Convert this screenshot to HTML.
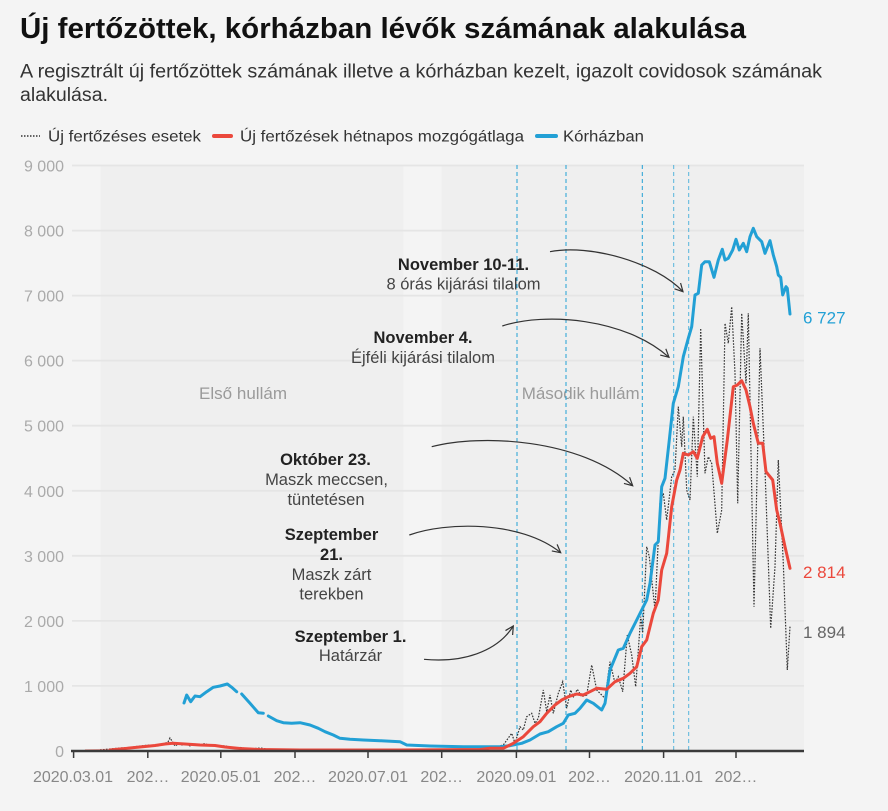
<!DOCTYPE html>
<html><head><meta charset="utf-8"><style>
html,body{margin:0;padding:0;background:#f4f4f4;}
svg{display:block;font-family:"Liberation Sans",Arial,sans-serif;}
</style></head><body>
<svg width="888" height="811" viewBox="0 0 888 811" xmlns="http://www.w3.org/2000/svg">
<defs>
<marker id="ah" markerWidth="12" markerHeight="12" refX="9" refY="5" orient="auto" markerUnits="userSpaceOnUse">
<path d="M1,0.8 L9,5 L1,9.2" fill="none" stroke="#333" stroke-width="1.2"/>
</marker>
</defs>
<rect x="0" y="0" width="888" height="811" fill="#f4f4f4"/>

<!-- Title -->
<text x="20" y="38" font-size="29" font-weight="bold" fill="#111" textLength="726" lengthAdjust="spacingAndGlyphs">Új fertőzöttek, kórházban lévők számának alakulása</text>
<text x="20" y="77.5" font-size="19" fill="#333" textLength="802" lengthAdjust="spacingAndGlyphs">A regisztrált új fertőzöttek számának illetve a kórházban kezelt, igazolt covidosok számának</text>
<text x="20" y="101" font-size="19" fill="#333" textLength="88" lengthAdjust="spacingAndGlyphs">alakulása.</text>

<!-- Legend -->
<line x1="21" y1="136" x2="40" y2="136" stroke="#333" stroke-width="1.4" stroke-dasharray="1.5 1.5"/>
<text x="48" y="141.5" font-size="16" fill="#333" textLength="153" lengthAdjust="spacingAndGlyphs">Új fertőzéses esetek</text>
<rect x="212" y="134" width="21" height="4" rx="2" fill="#eb483c"/>
<text x="240" y="141.5" font-size="16" fill="#333" textLength="284" lengthAdjust="spacingAndGlyphs">Új fertőzések hétnapos mozgógátlaga</text>
<rect x="535" y="134" width="23" height="4" rx="2" fill="#22a0d5"/>
<text x="563" y="141.5" font-size="16" fill="#333" textLength="81" lengthAdjust="spacingAndGlyphs">Kórházban</text>

<!-- Shading -->
<rect x="100.7" y="165" width="302.6" height="586" fill="#efefef"/>
<rect x="441.7" y="165" width="362.3" height="586" fill="#efefef"/>

<!-- Gridlines -->
<g stroke="#e5e5e5" stroke-width="1.8">
<line x1="72" x2="804" y1="165.5" y2="165.5"/>
<line x1="72" x2="804" y1="230.6" y2="230.6"/>
<line x1="72" x2="804" y1="295.6" y2="295.6"/>
<line x1="72" x2="804" y1="360.6" y2="360.6"/>
<line x1="72" x2="804" y1="425.7" y2="425.7"/>
<line x1="72" x2="804" y1="490.8" y2="490.8"/>
<line x1="72" x2="804" y1="555.8" y2="555.8"/>
<line x1="72" x2="804" y1="620.9" y2="620.9"/>
<line x1="72" x2="804" y1="685.9" y2="685.9"/>
</g>

<!-- Y labels -->
<g font-size="16" fill="#aaa" text-anchor="end">
<text x="64" y="171.5">9 000</text>
<text x="64" y="236.6">8 000</text>
<text x="64" y="301.6">7 000</text>
<text x="64" y="366.6">6 000</text>
<text x="64" y="431.7">5 000</text>
<text x="64" y="496.8">4 000</text>
<text x="64" y="561.8">3 000</text>
<text x="64" y="626.9">2 000</text>
<text x="64" y="691.9">1 000</text>
<text x="64" y="757">0</text>
</g>

<!-- wave labels -->
<text x="199" y="399" font-size="17" fill="#9a9a9a" textLength="88" lengthAdjust="spacingAndGlyphs">Első hullám</text>
<text x="521.7" y="399" font-size="17" fill="#9a9a9a" textLength="118" lengthAdjust="spacingAndGlyphs">Második hullám</text>

<!-- dashed verticals -->
<g stroke="#22a0d5" stroke-width="1" stroke-dasharray="4 3">
<line x1="517" x2="517" y1="165" y2="751"/>
<line x1="566" x2="566" y1="165" y2="751"/>
<line x1="642.3" x2="642.3" y1="165" y2="751"/>
<line x1="673.7" x2="673.7" y1="165" y2="751" stroke-opacity="0.75"/>
<line x1="688.7" x2="688.7" y1="165" y2="751" stroke-opacity="0.75"/>
</g>

<!-- Annotations -->
<g font-size="16.5" text-anchor="middle">
<text x="463.5" y="270" font-weight="bold" fill="#222">November 10-11.</text>
<text x="463.5" y="289.5" fill="#444">8 órás kijárási tilalom</text>
<text x="423" y="343" font-weight="bold" fill="#222">November 4.</text>
<text x="423" y="363" fill="#444">Éjféli kijárási tilalom</text>
<text x="325.5" y="465" font-weight="bold" fill="#222">Október 23.</text>
<text x="326.5" y="485" fill="#444">Maszk meccsen,</text>
<text x="326" y="505" fill="#444">tüntetésen</text>
<text x="331.5" y="540" font-weight="bold" fill="#222">Szeptember</text>
<text x="331.5" y="560" font-weight="bold" fill="#222">21.</text>
<text x="331.5" y="580" fill="#444">Maszk zárt</text>
<text x="331.5" y="599.5" fill="#444">terekben</text>
<text x="350.5" y="642" font-weight="bold" fill="#222">Szeptember 1.</text>
<text x="350.5" y="661" fill="#444">Határzár</text>
</g>
<g fill="none" stroke="#333" stroke-width="1.2" marker-end="url(#ah)">
<path d="M550,251.7 C590,244 655,262 683,291.7"/>
<path d="M502.3,326 C545,312 625,318 669,357.3"/>
<path d="M431.7,446.7 C480,434 580,438 632.7,485.7"/>
<path d="M409.3,535 C445,522 520,520 560.7,552.7"/>
<path d="M424,659.3 C462,663 497,652 513.3,626"/>
</g>

<!-- Daily cases dotted -->
<polyline fill="none" stroke="#333" stroke-width="1.2" stroke-dasharray="1.6 1.4" points="100,750 110,749 120,748 130,747.5 140,746 150,745 158,746 163,744 168,742 170,738 172,741 175,746 178,744 182,745 186,743 190,746 195,744 200,745 205,743.5 210,746 215,745 220,747 225,745.5 230,748 240,747.5 250,749 260,748 270,749.5 300,749.5 330,750 360,749.5 400,750 440,749.5 470,749.5 490,748.3 503.3,745 511.7,733.3 515,743.3 520,726.7 523.3,730 526.7,716.7 531.7,713.3 535,723.3 538.3,718.3 543.3,690 546.7,711.7 550,695 553.3,713.3 558.3,693.3 562.7,681.7 566.7,708.3 570.7,690 573.3,696.7 577.3,689.3 581.7,696.7 586.7,695 591.7,665 596.7,690 605,698.3 610,661.7 615,683.3 618.3,676.7 622.7,691.7 627.3,635 631.7,655 635.7,686.7 640.7,616.7 642.7,633 646.7,546.7 649.3,556.7 655,610 660,503 663.3,493.3 666.7,520 671.7,476.7 675,470 678.3,406.7 681.7,446.7 683.3,416.7 686.7,490 690,500 693.3,416.7 697.3,476.7 700.7,328.3 705,473.3 708.3,456.7 711.7,463.3 717.3,533.3 721.7,510 725,323.3 728.3,343.3 731.7,306.7 735,373.3 737.7,503.3 741.7,313.3 746,383.3 748.3,313.3 754,606.7 760,348.3 765,470 770.7,628.3 775,566.7 778.3,460 783.3,563.3 787.3,670 790,626.7"/>

<!-- Hospital blue -->
<g fill="none" stroke="#22a0d5" stroke-width="3" stroke-linejoin="round" stroke-linecap="round">
<polyline points="184,703 186.7,695 190.7,701.7 195,696 200,696.7 206.7,691.7 213.3,687.3 220,686 227.3,684 231.7,687.3 236.7,691.7"/>
<polyline points="241.7,694 250,703.3 258.3,712.7 263.3,713.3"/>
<polyline points="268.3,716 276.7,720.7 283.3,722.7 291.7,723.3 300,722.7 310,725 318.3,728.3 325,731.7 333.3,735 340,738.3 350,739.3 363.3,740 380,740.7 400,741.7 406.7,745 430,746 463.3,746.7 500,746.7 510,745.7 521.7,743.3 530,740 540,734 548.3,731.7 556.7,726.7 563.3,723.3 568.3,715 575,713.3 580,708.3 586.7,700 593.3,703.3 601.7,710 605,703.3 610,670 618.3,650 623.3,648.3 630,633.3 636.7,620 641.7,610 646.7,600 650,583.3 655,545 658.3,541.7 661.7,486.7 665,478.3 669.3,440 673.3,403.3 678.3,386.7 683.3,356.7 688.3,338.3 691.7,326.7 695,295 698.3,293.3 701.7,265 705,261.7 709.3,261.7 714,277.3 718.3,260 722.3,249.3 725,260 728.3,258.3 732.7,250 736,239.3 739.3,250 743.3,243.3 746.7,251.7 750,236.7 753.3,228.3 756.7,236.7 761.7,241.7 765,253.3 770,240.7 773.3,255 776.7,266.7 778.3,275 780.7,277.3 782.7,295 786,286.7 787.3,288.3 790,314"/>
</g>

<!-- Moving average red -->
<polyline fill="none" stroke="#eb483c" stroke-width="2.6" stroke-opacity="0.45" points="85,750.5 110,750"/>
<polyline fill="none" stroke="#eb483c" stroke-width="3" stroke-linejoin="round" stroke-linecap="round" points="110,750 120,749 140,747 155,745.5 165,744 173,743.3 185,744 200,745 215,745.5 225,747 240,748.5 260,749.5 300,750 400,750 480,749.5 490,748.3 503.3,748.3 513.3,743.3 523.3,736.7 533.3,726.7 540,721.7 546.7,713.3 555,705 561.7,700 568.3,696.7 576.7,694 583.3,695 590,691.7 596.7,688.3 606.7,689.3 615,681.7 623.3,678.3 630,673.3 636.7,666.7 641.7,646.7 646.7,640 653.3,613.3 658.3,600 661.7,570 666.7,553.3 671.7,506.7 676.7,480 680,470 683.3,453.3 688.3,455 693.3,451.7 697.3,458.3 702.7,436.7 707.3,429.3 710.7,438.3 714,436.7 717.3,463.3 721.7,483.3 727.3,440 733.3,386.7 737.3,385 741.7,380.7 746,390 750,406.7 753.3,423.3 758.3,443.3 762.7,443.3 766,471.7 772.7,480 776.7,510 780,523.3 785,546.7 790,568.3"/>

<!-- Axis -->
<line x1="71" x2="804" y1="751" y2="751" stroke="#3a3a3a" stroke-width="2.5"/>
<g stroke="#3a3a3a" stroke-width="1.5">
<line x1="73.6" x2="73.6" y1="751" y2="758"/>
<line x1="147.8" x2="147.8" y1="751" y2="758"/>
<line x1="220.8" x2="220.8" y1="751" y2="758"/>
<line x1="295" x2="295" y1="751" y2="758"/>
<line x1="368" x2="368" y1="751" y2="758"/>
<line x1="441.7" x2="441.7" y1="751" y2="758"/>
<line x1="516.4" x2="516.4" y1="751" y2="758"/>
<line x1="589.5" x2="589.5" y1="751" y2="758"/>
<line x1="663.6" x2="663.6" y1="751" y2="758"/>
<line x1="736" x2="736" y1="751" y2="758"/>
</g>
<g font-size="16" fill="#888" text-anchor="middle">
<text x="73" y="782">2020.03.01</text>
<text x="148" y="782">202…</text>
<text x="220.8" y="782">2020.05.01</text>
<text x="295" y="782">202…</text>
<text x="368" y="782">2020.07.01</text>
<text x="441.7" y="782">202…</text>
<text x="516.4" y="782">2020.09.01</text>
<text x="589.5" y="782">202…</text>
<text x="663.6" y="782">2020.11.01</text>
<text x="736" y="782">202…</text>
</g>

<!-- end labels -->
<text x="803" y="323.5" font-size="17" fill="#22a0d5">6 727</text>
<text x="803" y="578" font-size="17" fill="#eb483c">2 814</text>
<text x="803" y="638" font-size="17" fill="#666">1 894</text>
</svg>
</body></html>
